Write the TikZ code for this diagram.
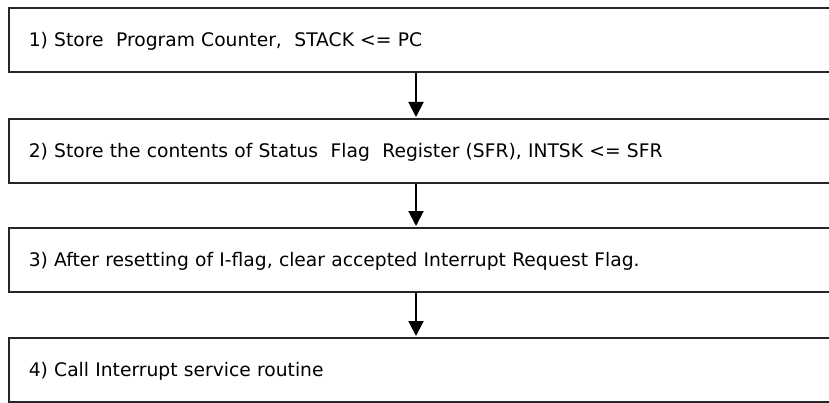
\documentclass[tikz,border=0pt]{standalone}
\usepackage{fontspec}
\setmainfont{DejaVu Sans}
\usetikzlibrary{arrows.meta}
\begin{document}
\begin{tikzpicture}[x=1pt,y=1pt,
  stepbox/.style={draw=black!85, line width=1.6pt, rectangle, anchor=north west,
    minimum width=840pt, minimum height=64pt, text width=800pt, align=left,
    inner xsep=19pt, font=\fontsize{18.7}{22}\selectfont, text height=14pt, text depth=0pt},
  arr/.style={line width=2pt, -{Triangle[width=15pt,length=15pt]}, shorten >=1pt}]
\useasboundingbox (0,0) rectangle (829,402);
\clip (0,0) rectangle (829,402);
\node[stepbox] (b1) at (8,395) {1) Store\ \ Program Counter,\ \ STACK <= PC};
\node[stepbox] (b2) at (8,284) {2) Store the contents of Status\ \ Flag\ \ Register (SFR), INTSK <= SFR};
\node[stepbox] (b3) at (8,175) {3) After resetting of I-flag, clear accepted Interrupt Request Flag.};
\node[stepbox] (b4) at (8,65) {4) Call Interrupt service routine};
\coordinate (ax) at (416,0);
\draw[arr] (b1.south -| ax) -- (b2.north -| ax);
\draw[arr] (b2.south -| ax) -- (b3.north -| ax);
\draw[arr] (b3.south -| ax) -- (b4.north -| ax);
\end{tikzpicture}
\end{document}
